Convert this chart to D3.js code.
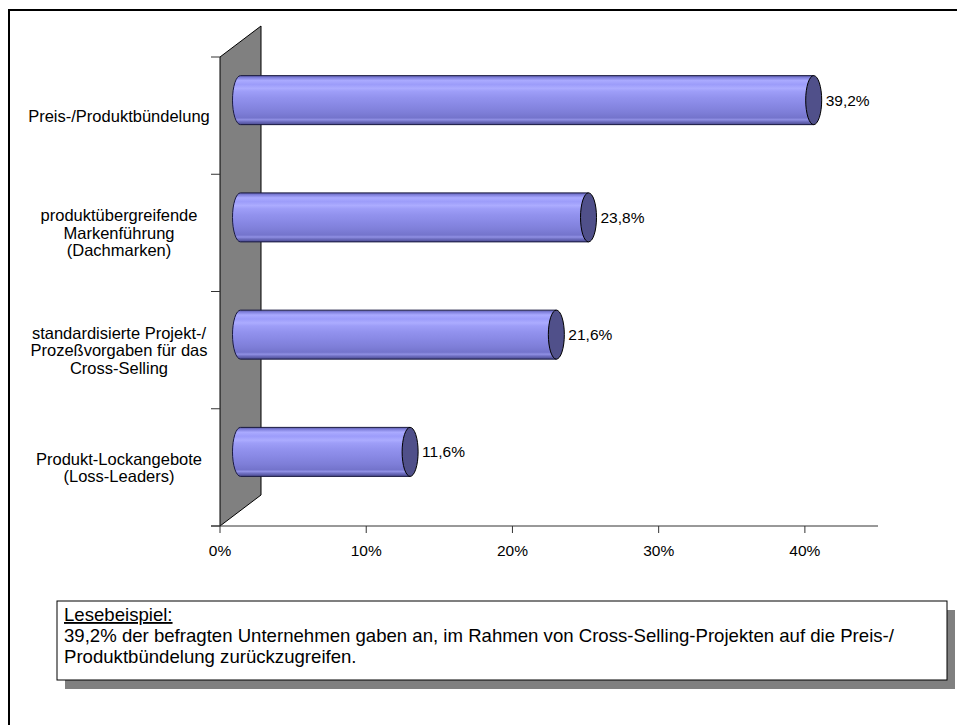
<!DOCTYPE html>
<html><head><meta charset="utf-8">
<script src="https://cdn.jsdelivr.net/npm/d3@7"></script>
<style>
body{margin:0;background:#fff;}
svg{display:block;font-family:"Liberation Sans",Arial,sans-serif;}
</style></head>
<body>
<svg id="chart" width="957" height="725"></svg>
<script>
const categories = [
  ["Preis-/Produktbündelung"],
  ["produktübergreifende","Markenführung","(Dachmarken)"],
  ["standardisierte Projekt-/","Prozeßvorgaben für das","Cross-Selling"],
  ["Produkt-Lockangebote","(Loss-Leaders)"]
];
const values = [0.392, 0.238, 0.216, 0.116];
const valueLabels = ["39,2%","23,8%","21,6%","11,6%"];
const xTicks = [0, 0.1, 0.2, 0.3, 0.4];
const xTickLabels = ["0%","10%","20%","30%","40%"];
const noteTitle = "Lesebeispiel:";
const noteLines = [
  "39,2% der befragten Unternehmen gaben an, im Rahmen von Cross-Selling-Projekten auf die Preis-/",
  "Produktbündelung zurückzugreifen."
];

const svg = d3.select("#chart");
const x = d3.scaleLinear().domain([0, 0.45]).range([220, 878]);
const y = d3.scaleBand().domain(d3.range(categories.length)).range([57, 526]).padding(0);
const depthX = 41, depthY = -31;
const rx = 8, ry = 24.5;

// outer frame
svg.append("path").attr("d","M9,725 L9,10 L957,10").attr("fill","none").attr("stroke","#000").attr("stroke-width",2);

// defs gradient
const defs = svg.append("defs");
const g = defs.append("linearGradient").attr("id","barGrad").attr("x1",0).attr("y1",0).attr("x2",0).attr("y2",1);
[[0,"#5a5aa8"],[0.04,"#8080dc"],[0.1,"#aaaaff"],[0.18,"#9c9cfa"],[0.26,"#acacff"],[0.32,"#9e9ef8"],
 [0.45,"#9292ee"],[0.6,"#8888e4"],[0.75,"#7e7ed8"],[0.86,"#7474cc"],[0.9,"#9090e4"],[0.94,"#6e6ec0"],[1,"#4a4a90"]]
 .forEach(([o,c])=>g.append("stop").attr("offset",o).attr("stop-color",c));

// back wall
const x0 = x(0), yTop = y.range()[0], yBot = y.range()[1];
svg.append("path")
  .attr("d", `M${x0},${yBot} L${x0},${yTop} L${x0+depthX},${yTop+depthY} L${x0+depthX},${yBot+depthY} Z`)
  .attr("fill","#808080").attr("stroke","#000").attr("stroke-width",1);

// y ticks
const yBounds = categories.map((d,i)=>y(i)).concat([yBot]);
svg.selectAll(".ytick").data(yBounds).join("line")
  .attr("x1", x0-9).attr("x2", x0).attr("y1", d=>d).attr("y2", d=>d)
  .attr("stroke","#333").attr("stroke-width",1);

// x axis
svg.append("line").attr("x1", x0-9).attr("x2", x.range()[1]).attr("y1", yBot).attr("y2", yBot)
  .attr("stroke","#333").attr("stroke-width",1);
svg.selectAll(".xtick").data(xTicks).join("line")
  .attr("x1", d=>x(d)).attr("x2", d=>x(d)).attr("y1", yBot).attr("y2", yBot+7)
  .attr("stroke","#333").attr("stroke-width",1);
svg.selectAll(".xlab").data(xTicks).join("text")
  .attr("x", d=>x(d)).attr("y", yBot+30).attr("text-anchor","middle")
  .attr("font-size",15.5).attr("fill","#000").text((d,i)=>xTickLabels[i]);

// bars
values.forEach((v,i)=>{
  const cy = y(i) + y.bandwidth()/2 + depthY/2;
  const xa = x(0) + depthX/2, xb = x(v) + depthX/2;
  const top = cy - ry, bot = cy + ry;
  svg.append("path")
    .attr("d", `M${xb},${top} L${xa},${top} A${rx},${ry} 0 0 0 ${xa},${bot} L${xb},${bot} Z`)
    .attr("fill","url(#barGrad)").attr("stroke","#1a1a40").attr("stroke-width",1);
  svg.append("ellipse").attr("cx", xb).attr("cy", cy).attr("rx", rx).attr("ry", ry)
    .attr("fill","#50508a").attr("stroke","#000").attr("stroke-width",1);
  svg.append("text").attr("x", xb + rx + 4).attr("y", cy + 5.5)
    .attr("font-size",15.5).attr("fill","#000").text(valueLabels[i]);
});

// category labels
categories.forEach((lines,i)=>{
  const cy = y(i) + y.bandwidth()/2;
  const lh = 17.5;
  const t = svg.append("text").attr("text-anchor","middle").attr("font-size",16.5).attr("fill","#000");
  lines.forEach((l,j)=>{
    t.append("tspan").attr("x",119).attr("y", cy + 6 + (j-(lines.length-1)/2)*lh).text(l);
  });
});

// note box
const bx=57, by=601, bw=890, bh=79;
svg.append("rect").attr("x",bx+8).attr("y",by+9).attr("width",bw).attr("height",bh).attr("fill","#808080");
svg.append("rect").attr("x",bx).attr("y",by).attr("width",bw).attr("height",bh).attr("fill","#fff").attr("stroke","#000").attr("stroke-width",1);
svg.append("text").attr("x",64).attr("y",621).attr("font-size",18.6).attr("text-decoration","underline").text(noteTitle);
noteLines.forEach((l,j)=>{
  svg.append("text").attr("x",64).attr("y",642 + j*21).attr("font-size",18.6).text(l);
});
</script>
</body></html>
